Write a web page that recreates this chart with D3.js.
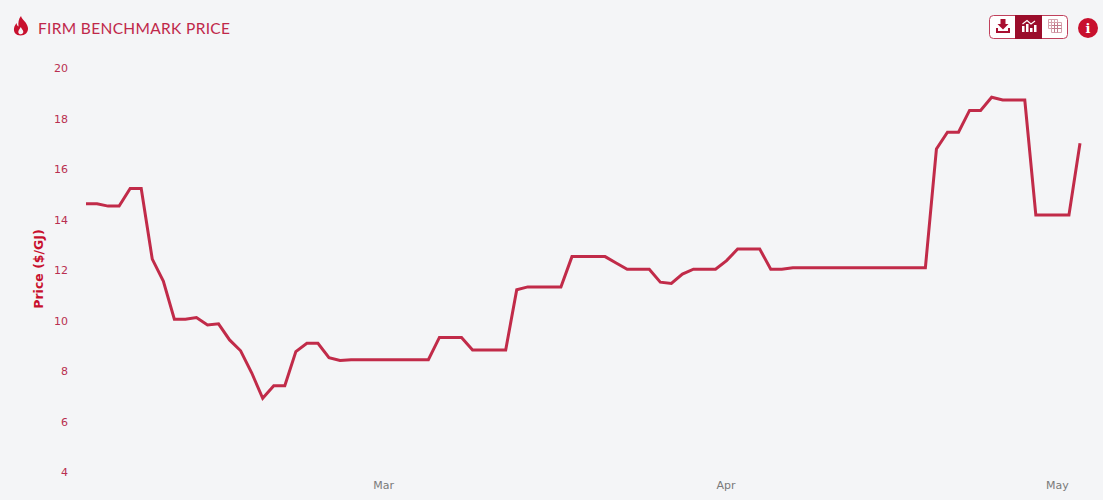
<!DOCTYPE html>
<html><head><meta charset="utf-8">
<script src="https://cdn.jsdelivr.net/npm/d3@7"></script>
<style>
html,body{margin:0;padding:0;background:#f4f5f7;overflow:hidden}
svg{display:block}
.tick text{font-family:"DejaVu Sans",Verdana,sans-serif;font-size:11px}
</style></head><body>
<svg id="c" width="1103" height="500"></svg>
<script>
const chartTitle = "FIRM BENCHMARK PRICE";
const yAxisTitle = "Price ($/GJ)";
const startDate = "2021-02-02";
const prices = [
14.62,14.62,14.53,14.53,15.23,15.23,12.43,11.56,10.05,10.05,
10.12,9.82,9.87,9.23,8.8,7.93,6.92,7.42,7.42,8.77,
9.1,9.1,8.53,8.42,8.45,8.45,8.45,8.45,8.45,8.45,
8.45,8.45,9.33,9.33,9.33,8.83,8.83,8.83,8.83,11.22,
11.33,11.33,11.33,11.33,12.53,12.53,12.53,12.53,12.28,12.03,
12.03,12.03,11.52,11.47,11.84,12.03,12.03,12.03,12.37,12.83,
12.83,12.83,12.03,12.03,12.09,12.09,12.09,12.09,12.09,12.09,
12.09,12.09,12.09,12.09,12.09,12.09,12.09,16.79,17.46,17.46,
18.32,18.32,18.84,18.73,18.73,18.73,14.18,14.18,14.18,14.18,17.02];
const yTicks = [4,6,8,10,12,14,16,18,20];
const xTickDates = ["2021-03-01","2021-04-01","2021-05-01"];

const parse = d3.utcParse("%Y-%m-%d");
const dates = prices.map((_,i)=>d3.utcDay.offset(parse(startDate),i));
const data = dates.map((d,i)=>({d,v:prices[i]}));

const svg = d3.select("#c");
const crimson="#c8102e", lineCol="#c12b49", tickCol="#b92f50";

const x = d3.scaleUtc().domain(d3.extent(dates)).range([86,1080]);
const y = d3.scaleLinear().domain([4,20]).range([472,68]);

const gy = svg.append("g").attr("transform","translate(68,0)")
  .call(d3.axisLeft(y).tickValues(yTicks).tickSize(0).tickPadding(0));
gy.select(".domain").remove();
gy.selectAll("text").attr("fill",tickCol);

const gx = svg.append("g").attr("transform","translate(-1,485)")
  .call(d3.axisBottom(x).tickValues(xTickDates.map(parse)).tickSize(0).tickPadding(0).tickFormat(d3.utcFormat("%b")));
gx.select(".domain").remove();
gx.selectAll("text").attr("fill","#7a7a7a").attr("dy","0.35em");

svg.append("path").datum(data)
  .attr("fill","none").attr("stroke",lineCol).attr("stroke-width",3).attr("stroke-linejoin","miter")
  .attr("d",d3.line().x(d=>x(d.d)).y(d=>y(d.v)));

svg.append("text").attr("transform","translate(43,269) rotate(-90)")
  .attr("text-anchor","middle").attr("font-family",'"DejaVu Sans",Verdana,sans-serif')
  .attr("font-size",12.5).attr("font-weight","bold").attr("fill",crimson).text(yAxisTitle);

svg.append("text").attr("x",38).attr("y",34)
  .attr("font-family","Lato,'Open Sans',sans-serif").attr("font-size",15.5)
  .attr("textLength",192).attr("fill","#c0284a").text(chartTitle);

// flame icon
svg.append("path").attr("fill",crimson).attr("fill-rule","evenodd")
  .attr("d","M21 16C22 20 27 22 28 28C28.400 32.500 25 35.500 20.500 35.500C16 35.500 13.500 32.500 14 28.500C14.300 26 15.500 24.500 16.500 23C16.800 25 17.400 26 18.500 26.500C18 22.500 18.500 19 21 16ZM20.800 27C20 29 18.300 30 18.300 32C18.300 33.500 19.500 34.300 20.800 34.300C22.200 34.300 23.400 33.300 23.300 31.800C23.200 30 21.500 29 20.800 27Z");

// toolbar
const tb = svg.append("g");
tb.append("rect").attr("x",989.5).attr("y",15.5).attr("width",78).attr("height",23).attr("rx",4)
  .attr("fill","#fff").attr("stroke","#c0405c");
tb.append("rect").attr("x",1015).attr("y",15).attr("width",27).attr("height",24).attr("fill","#9b0d2b");
// download
tb.append("path").attr("fill","#a80f30")
  .attr("d","M1000.500 19H1005.500V24H1008.500L1003 29.500L997.500 24H1000.500ZM996 28H998V31H1008V28H1010V33H996Z");
// bars with dots
const bi = tb.append("g").attr("fill","#fff");
[[1022,26,6],[1026,24,8],[1030,28,4],[1034,25,7]].forEach(b=>bi.append("rect").attr("x",b[0]).attr("y",b[1]).attr("width",2.5).attr("height",b[2]));
tb.append("path").attr("fill","none").attr("stroke","#fff").attr("stroke-width",1.2)
  .attr("d","M1022.500 24L1027 20.500L1031 24L1035 21");
// table grid
const tg = tb.append("g").attr("stroke","#d6a3af").attr("stroke-width",1).attr("fill","none");
tg.append("path").attr("d","M1048.500 19.500H1057.500V22.500H1061.500V32.500H1051.500V28.500H1048.500Z");
[1054.500,1057.500].forEach(v=>tg.append("path").attr("stroke","#c27a8c").attr("d",`M${v} 22.500V32.500`));
[25.500,28.500].forEach(v=>tg.append("path").attr("stroke","#c27a8c").attr("d",`M1051.500 ${v}H1061.500`));
tg.append("path").attr("d","M1051.500 19.500V28.500M1054.500 19.500V22.500M1048.500 22.500H1057.500M1048.500 25.500H1051.500");

// info
svg.append("circle").attr("cx",1088).attr("cy",28).attr("r",10).attr("fill",crimson);
svg.append("text").attr("x",1088).attr("y",33).attr("text-anchor","middle")
  .attr("font-family","'DejaVu Serif',serif").attr("font-weight","bold").attr("font-size",13).attr("fill","#fff").text("i");
</script>
</body></html>
